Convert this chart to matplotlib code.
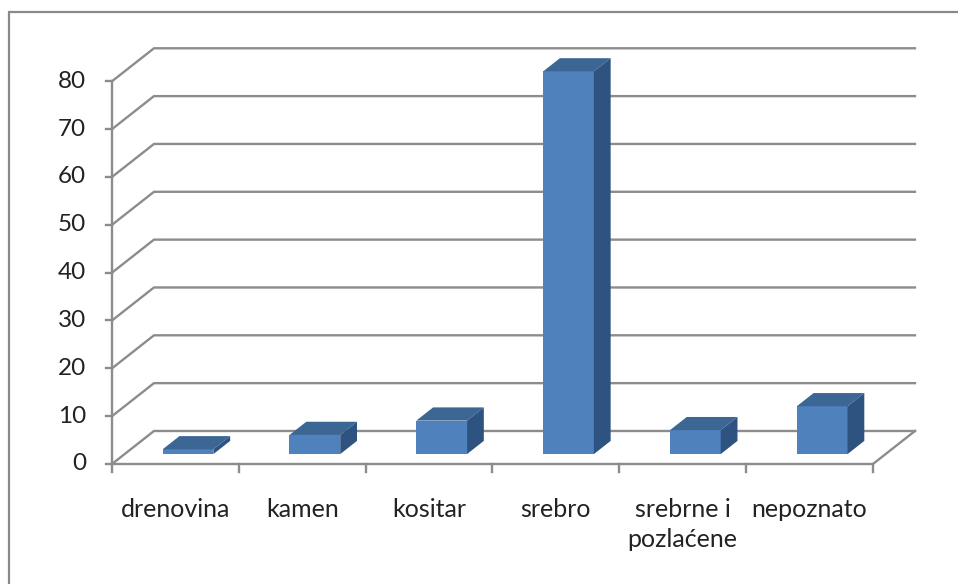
import matplotlib.pyplot as plt
from matplotlib.patches import Polygon, Rectangle

# podaci
kategorije = ['drenovina', 'kamen', 'kositar', 'srebro', 'srebrne i\npozlaćene', 'nepoznato']
vrijednosti = [1, 4, 7, 80, 5, 10]
y_oznake = [0, 10, 20, 30, 40, 50, 60, 70, 80]

# izgled "3D" stupaca
DX, DY = 0.331, 6.9          # pomak dubine (kategorije, vrijednosti)
SIRINA = 0.4                  # sirina stupca
D0, D1 = 0.3, 0.7             # dubina stupca unutar zida
PLAVA = '#4F81BD'
VRH = '#3C6795'
BOK = '#2F5381'
SIVA = '#8C8C8C'

plt.rcParams['font.family'] = ['Lato', 'DejaVu Sans']

fig = plt.figure(figsize=(9.58, 5.84), dpi=100)
ax = fig.add_axes([0, 0, 1, 1])
ax.set_xlim(-112 / 126.83, (958 - 112) / 126.83)
ax.set_ylim(-120 / 4.784, (584 - 120) / 4.784)
ax.axis('off')

n = len(kategorije)
px_x = 1 / 126.83
px_y = 1 / 4.784

# mreza na zidovima
for v in y_oznake:
    ax.plot([0, DX, n + DX], [v, v + DY, v + DY], color=SIVA, lw=1.7, zorder=1)
    ax.plot([-6 * px_x, 0], [v, v], color=SIVA, lw=1.7, zorder=1)
    ax.text(-0.205, v, str(v), ha='right', va='center', fontsize=17.5, color='#222222')

# pod i os
ax.plot([0, n, n + DX], [0, 0, DY], color=SIVA, lw=1.7, zorder=1)
ax.plot([0, 0], [0, y_oznake[-1]], color=SIVA, lw=1.7, zorder=1)
for i in range(n + 1):
    ax.plot([i, i], [0, -8 * px_y], color=SIVA, lw=1.7, zorder=1)

# stupci
for i, (kat, v) in enumerate(zip(kategorije, vrijednosti)):
    x0 = i + 0.5 - SIRINA / 2 + D0 * DX
    y0 = D0 * DY
    x1 = x0 + SIRINA
    dx = (D1 - D0) * DX
    dy = (D1 - D0) * DY
    ax.add_patch(Polygon([(x0, y0), (x1, y0), (x1, y0 + v), (x0, y0 + v)],
                         closed=True, facecolor=PLAVA, edgecolor='none', zorder=3))
    ax.add_patch(Polygon([(x0, y0 + v), (x1, y0 + v), (x1 + dx, y0 + v + dy), (x0 + dx, y0 + v + dy)],
                         closed=True, facecolor=VRH, edgecolor='none', zorder=3))
    ax.add_patch(Polygon([(x1, y0), (x1 + dx, y0 + dy), (x1 + dx, y0 + v + dy), (x1, y0 + v)],
                         closed=True, facecolor=BOK, edgecolor='none', zorder=3))
    ax.text(i + 0.5, -34 * px_y, kat, ha='center', va='top', fontsize=18,
            color='#222222', linespacing=1.35)

# okvir grafikona
fig.add_artist(Rectangle((9 / 958, -0.1), 1.1, 0.1 + (584 - 12) / 584,
                         transform=fig.transFigure, fill=False,
                         edgecolor='#8A8A8A', lw=1.6))

fig.savefig('out.png', dpi=100)
